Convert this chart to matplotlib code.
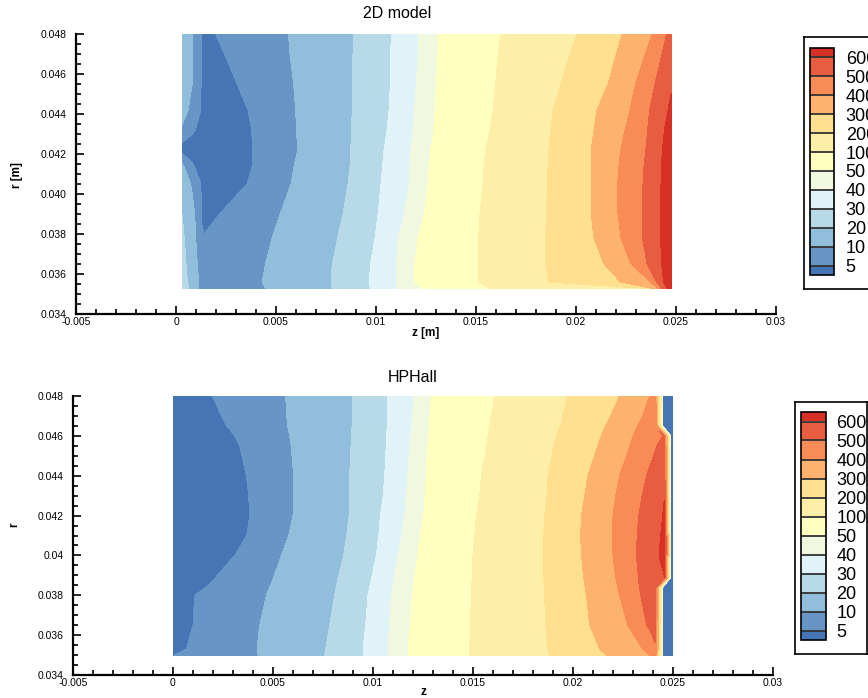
import numpy as np
import matplotlib
matplotlib.use('Agg')
import matplotlib.pyplot as plt
from matplotlib.colors import ListedColormap, BoundaryNorm
from matplotlib.ticker import MultipleLocator, FormatStrFormatter

plt.rcParams['font.family'] = ['Liberation Sans', 'DejaVu Sans']

# contour levels and the fill colours (below 5 ... above 600)
levels = [5, 10, 20, 30, 40, 50, 100, 200, 300, 400, 500, 600]
colors = ['#4575b4', '#6796c6', '#91bfdb', '#b8d9e8', '#e0f3f8', '#f0f8e0',
          '#ffffbf', '#feefa8', '#fee090', '#fdb26e', '#f98c56', '#e85d40', '#d73027']

# ---------------- 2D model ----------------
# each row is one radius, each column the z where a level is crossed
r_top = [0.03525, 0.0356, 0.0365, 0.0378, 0.0390, 0.0405, 0.0414, 0.0421,
         0.0425, 0.0432, 0.0442, 0.0455, 0.0470, 0.0480]
top_zleft, top_zright = 0.0003, 0.02476
top_vleft = [28, 26, 24, 22, 20, 16, 11, 4.5, 4.5, 9, 13, 14, 14, 14]
top_v1 = [16, 15, 14, 13, 12, 9, 5.3, 4, 4, 5.5, 8, 10, 10, 10]          # z = 0.00081
top_v2 = [8, 8, 7, 5.2, 4.9, 4.9, 4, 3.5, 3.5, 4, 4.9, 4.9, 4.9, 4.9]    # z = 0.00126
top_z3 = [.002, .002, .002, .00135, .0017, .0024, .0025, .0025, .0025, .0025, .0024, .0021, .0018, .0016]
top_v3 = [6.5, 6.5, 6.5, 5.2, 4, 3.5, 3, 2.5, 2.5, 3, 3.5, 3.8, 4, 4]
top_z4 = [.003, .003, .003, .0022, .002175, .00355, .00381, .00381, .00381, .00379, .0036, .00306, .002425, .001975]
top_v4 = [7.5, 7.5, 7.5, 6, 5, 5, 5, 5, 5, 5, 5, 5, 5, 5]
top_z10 = [.00448, .00431, .00447, .00481, .00521, .00575, .0059, .00606, .00606, .00603, .00598, .00588, .0057, .005625]
top_z20 = [.00781, .00775, .00782, .00808, .00835, .0086, .0087, .00873, .00875, .00878, .00881, .00881, .00885, .00889]
top_z30 = [.00972, .00966, .00973, .00995, .0101, .01025, .01033, .01039, .01045, .01055, .01065, .01072, .01074, .01076]
top_z40 = [.01106, .011, .01101, .01112, .01143, .01165, .0117, .01173, .01178, .01185, .01193, .01202, .01209, .01214]
top_z50 = [.01238, .01192, .01194, .0121, .01243, .0126, .01268, .01273, .0128, .01288, .01295, .01303, .0131, .01314]
top_z100 = [.01573, .0151, .0151, .01513, .0152, .01535, .0154, .01548, .01555, .0157, .01585, .01598, .01612, .01623]
top_z200 = [.02383, .01863, .01848, .01848, .01852, .01858, .0186, .01864, .01867, .01873, .01885, .01925, .0197, .02006]
top_z300 = [.02398, .02223, .0214, .0209, .02076, .02076, .02076, .02077, .0208, .0209, .02105, .0216, .02202, .02231]
top_z400 = [.02413, .02373, .02275, .02225, .0221, .02208, .02215, .02222, .0223, .02245, .0227, .02297, .02348, .02381]
top_z500 = [.02433, .02403, .02355, .02333, .02331, .02335, .0234, .02348, .02352, .02358, .02368, .02395, .0243, .02453]
top_z600 = [.02458, .02438, .02428, .02423, .02423, .02425, .02428, .02431, .02435, .02442, .0246, .02436, .02453, .02465]
top_v600 = [600, 600, 600, 600, 600, 600, 600, 600, 600, 600, 600, 546, 539, 535]
top_vright = [640, 655, 660, 660, 660, 660, 660, 655, 650, 640, 615, 592, 578, 570]

# ---------------- HPHall ----------------
r_bot = [0.035, 0.0353, 0.0365, 0.038, 0.0384, 0.0389, 0.040, 0.041, 0.042, 0.043,
         0.044, 0.0455, 0.046, 0.0465, 0.047, 0.048]
bot_zleft, bot_zright = 0.0, 0.025
bot_vleft = 3
bot_z5 = [.000085, .00067, .001, .001085, .001635, .002135, .003085, .003685, .003835, .003785,
          .00367, .003335, .003085, .002685, .002435, .00197]
bot_z10 = [.00425, .0042, .004335, .00467, .004835, .005035, .00542, .005785, .006, .006035,
           .006035, .00591, .005835, .005735, .005685, .005635]
bot_z20 = [.007585, .007635, .007835, .008085, .00816, .00826, .008535, .008685, .0088, .008825,
           .008835, .0089, .00892, .008955, .008975, .009]
bot_z30 = [.0095, .0095, .009635, .00975, .009835, .009935, .01017, .010285, .01037, .01051,
           .010585, .01066, .010685, .01071, .010725, .01075]
bot_z40 = [.010785, .01075, .010835, .01092, .010985, .01106, .01126, .011435, .011585, .01167,
           .011735, .011835, .011885, .011935, .01197, .012035]
bot_z50 = [.011785, .01175, .01186, .01197, .01202, .012085, .012235, .012385, .012535, .0126,
           .01266, .012735, .012785, .01282, .01285, .01292]
bot_z100 = [.014835, .014835, .014875, .01492, .014935, .01496, .015, .015085, .01517, .015335,
            .01542, .015685, .01575, .015835, .01592, .016085]
bot_z200 = [.018835, .018735, .018635, .018585, .01856, .018535, .0185, .018535, .018585, .018685,
            .01875, .019035, .01917, .019385, .019485, .01975]
bot_z300 = [.02167, .021335, .020835, .02067, .02061, .020535, .02042, .020385, .02042, .020585,
            .02075, .021235, .02142, .021635, .021885, .022335]
bot_z400 = [.023835, .023485, .022735, .022335, .022235, .022135, .022, .021985, .022, .022135,
            .022335, .022835, .023, .023235, .023485, .023835]
bot_z500 = [.02395, .0238, .023685, .023385, .02332, .02327, .02317, .02321, .023285, .02346,
            .023685, .024185, .024485, .0237, .0238, .02395]
bot_v500 = [420, 445, 500, 500, 500, 500, 500, 500, 500, 500, 500, 500, 500, 440, 430, 420]
bot_z600 = [.02403, .02395, .0239, .02375, .0238, .0244, .0243, .024385, .024485, .0241,
            .0242, .02437, .02452, .0239, .02395, .02403]
bot_v600 = [440, 467, 515, 530, 550, 598, 600, 600, 600, 555, 547, 530, 510, 460, 450, 435]
bot_zpeak = [.0241, .0241, .0241, .0241, .0241, .02458, .02458, .02458, .02458, .02455,
             .02455, .02455, .02455, .0241, .0241, .0241]
bot_vpeak = [460, 490, 530, 555, 560, 600, 640, 640, 615, 595, 580, 560, 520, 480, 470, 450]
bot_zdrop = [.0245, .0245, .0245, .0245, .0245, .0249, .0249, .0249, .0249, .0249,
             .0249, .0249, .0249, .0245, .0245, .0245]
bot_vdrop = 2


def full(v, n):
    return np.full(n, v, dtype=float)


n = len(r_top)
Xt = np.column_stack([full(top_zleft, n), full(0.00081, n), full(0.00126, n), top_z3, top_z4,
                      top_z10, top_z20, top_z30, top_z40, top_z50, top_z100, top_z200,
                      top_z300, top_z400, top_z500, top_z600, full(top_zright, n)])
Zt = np.column_stack([top_vleft, top_v1, top_v2, top_v3, top_v4]
                     + [full(v, n) for v in levels[1:11]]
                     + [top_v600, top_vright])
Yt = np.repeat(np.array(r_top)[:, None], Xt.shape[1], axis=1)

m = len(r_bot)
Xb = np.column_stack([full(bot_zleft, m), bot_z5, bot_z10, bot_z20, bot_z30, bot_z40, bot_z50,
                      bot_z100, bot_z200, bot_z300, bot_z400, bot_z500, bot_z600, bot_zpeak,
                      bot_zdrop, full(bot_zright, m)])
Zb = np.column_stack([full(bot_vleft, m)] + [full(v, m) for v in levels[:10]]
                     + [bot_v500, bot_v600, bot_vpeak, full(bot_vdrop, m), full(bot_vdrop, m)])
Yb = np.repeat(np.array(r_bot)[:, None], Xb.shape[1], axis=1)

cmap = ListedColormap(colors[1:-1])
cmap.set_under(colors[0])
cmap.set_over(colors[-1])
norm = BoundaryNorm(levels, cmap.N)

fig = plt.figure(figsize=(8.68, 6.98), dpi=100)
W, H = 868.0, 698.0


def style_axes(ax, yfmt, xlabel, ylabel, lab_x, lab_y):
    ax.set_xlim(-0.005, 0.03)
    ax.set_ylim(0.034, 0.048)
    for s in ['top', 'right']:
        ax.spines[s].set_visible(False)
    for s in ['left', 'bottom']:
        ax.spines[s].set_linewidth(1.6)
    ax.xaxis.set_major_locator(MultipleLocator(0.005))
    ax.xaxis.set_minor_locator(MultipleLocator(0.001))
    ax.yaxis.set_major_locator(MultipleLocator(0.002))
    ax.yaxis.set_minor_locator(MultipleLocator(0.0005))
    ax.xaxis.set_major_formatter(FormatStrFormatter('%g'))
    ax.yaxis.set_major_formatter(FormatStrFormatter(yfmt))
    ax.tick_params(which='both', direction='in', labelsize=7.5, width=1.2)
    ax.tick_params(which='major', length=6)
    ax.tick_params(which='minor', length=3.5)
    ax.tick_params(axis='x', pad=2)
    ax.tick_params(axis='y', pad=7)
    ax.set_xlabel(xlabel, fontsize=8.5, fontweight='bold', va='center')
    ax.xaxis.set_label_coords(0.5, lab_x)
    ax.set_ylabel(ylabel, fontsize=8.5, fontweight='bold', va='center')
    ax.yaxis.set_label_coords(-0.084, lab_y)


def legend_box(x0, y0, x1, y1, sx0, sy0, sx1, sy1, cs, pad):
    # white frame behind the colour bar
    frame = fig.add_axes([x0 / W, 1 - y1 / H, (x1 - x0) / W, (y1 - y0) / H], zorder=0)
    frame.set_xticks([])
    frame.set_yticks([])
    for s in frame.spines.values():
        s.set_linewidth(1.2)
    cax = fig.add_axes([sx0 / W, 1 - sy1 / H, (sx1 - sx0) / W, (sy1 - sy0) / H], zorder=2)
    cb = fig.colorbar(cs, cax=cax, extend='both', extendrect=True, extendfrac=0.5 / 11,
                      drawedges=True, ticks=levels)
    cb.dividers.set_color('#333333')
    cb.dividers.set_linewidth(1.3)
    cb.outline.set_linewidth(1.2)
    cb.ax.set_yticklabels(['%g' % v for v in levels])
    cb.ax.tick_params(length=0, labelsize=13, pad=pad)
    cb.ax.minorticks_off()


ax1 = fig.add_axes([76 / W, 1 - 314 / H, 700 / W, 280 / H])
cs1 = ax1.contourf(Xt, Yt, Zt, levels=levels, cmap=cmap, norm=norm, extend='both')
style_axes(ax1, '%.3f', 'z [m]', 'r [m]', -0.068, 0.496)
fig.text(397 / W, 1 - 14 / H, '2D model', ha='center', va='center', fontsize=11.5)
legend_box(804, 37, 880, 289, 810, 48, 834, 275, cs1, 8.5)

ax2 = fig.add_axes([73 / W, 1 - 675 / H, 700 / W, 279 / H])
cs2 = ax2.contourf(Xb, Yb, Zb, levels=levels, cmap=cmap, norm=norm, extend='both')
style_axes(ax2, '%g', 'z', 'r', -0.061, 0.538)
fig.text(413 / W, 1 - 377 / H, 'HPHall', ha='center', va='center', fontsize=11.5)
legend_box(795, 402, 867, 654, 801, 412, 826, 640, cs2, 7.5)

fig.savefig('out.png', dpi=100)
